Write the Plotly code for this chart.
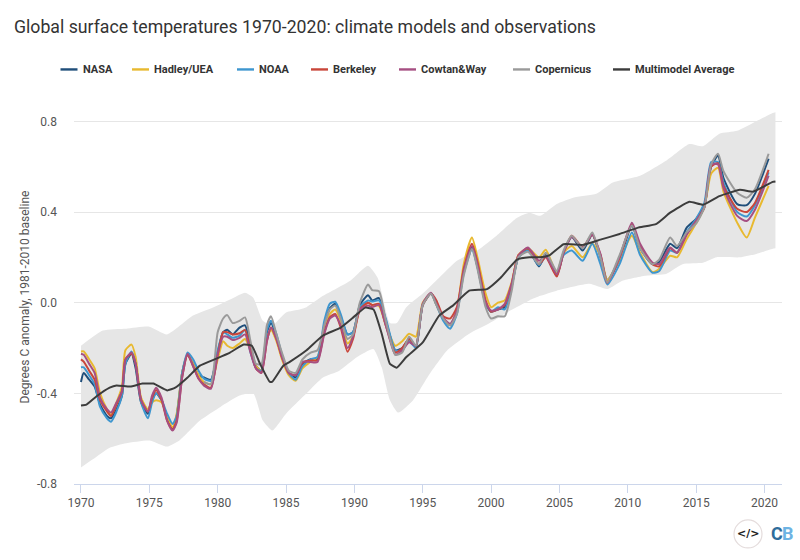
import plotly.graph_objects as go

# model range
upper_years = [1970, 1971.6, 1973.3, 1975, 1976.3, 1978.2, 1979.7, 1981.1, 1982, 1982.6, 1983.3, 1984, 1985, 1986, 1986.5, 1987.7, 1989.7, 1991, 1991.7, 1992.6, 1993.1, 1993.8, 1995, 1996.2, 1997.5, 1999, 2000.4, 2001.9, 2002.8, 2003.6, 2004.8, 2006, 2007.7, 2008.9, 2010.9, 2012.8, 2014.5, 2015.5, 2016.7, 2018, 2019.4, 2020.6, 2020.8]
upper_vals = [-0.19, -0.123, -0.115, -0.106, -0.14, -0.057, -0.02, 0.02, 0.044, 0.022, -0.08, -0.10, -0.043, -0.03, -0.02, 0.03, 0.097, 0.163, 0.11, -0.09, -0.09, -0.02, 0.04, 0.11, 0.185, 0.23, 0.295, 0.375, 0.397, 0.383, 0.435, 0.463, 0.48, 0.53, 0.56, 0.626, 0.70, 0.69, 0.745, 0.758, 0.80, 0.837, 0.84]
lower_years = [1970, 1970.9, 1972.1, 1973.3, 1975, 1976.3, 1977.2, 1978.7, 1980.2, 1981.6, 1982.6, 1983.3, 1984, 1985, 1986.5, 1987.7, 1988.9, 1990.2, 1991.4, 1992, 1992.6, 1993.2, 1994.3, 1995.5, 1996.8, 1998.4, 1999.9, 2001.4, 2002.8, 2003.6, 2004.8, 2007.2, 2008.5, 2009.6, 2011.4, 2012.8, 2014, 2015.5, 2016.5, 2018.2, 2019.4, 2020.6, 2020.8]
lower_vals = [-0.727, -0.69, -0.64, -0.62, -0.608, -0.635, -0.608, -0.52, -0.46, -0.41, -0.40, -0.52, -0.564, -0.49, -0.40, -0.33, -0.30, -0.24, -0.205, -0.285, -0.43, -0.485, -0.43, -0.315, -0.21, -0.137, -0.09, -0.035, 0.01, 0.03, 0.053, 0.083, 0.06, 0.097, 0.12, 0.127, 0.17, 0.176, 0.20, 0.20, 0.215, 0.238, 0.24]

avg_years = [1970, 1970.4, 1971.1, 1972.1, 1972.6, 1973.6, 1974.5, 1975.3, 1976.3, 1976.9, 1977.8, 1978.7, 1979.9, 1980.9, 1981.9, 1982.5, 1983.1, 1983.8, 1984, 1984.8, 1985.3, 1986.5, 1987.7, 1989, 1989.9, 1990.8, 1991.4, 1992, 1992.6, 1993.1, 1993.8, 1995, 1996.2, 1997.2, 1998.4, 1999.7, 2000.7, 2001.9, 2002.8, 2003.6, 2004.3, 2005.3, 2006.7, 2008, 2009.4, 2010.7, 2012.1, 2013.1, 2014.5, 2015.5, 2016.7, 2018.2, 2019.2, 2020.6, 2020.8]
avg_vals = [-0.454, -0.45, -0.415, -0.375, -0.365, -0.37, -0.357, -0.357, -0.387, -0.375, -0.33, -0.278, -0.247, -0.22, -0.185, -0.19, -0.27, -0.348, -0.348, -0.278, -0.26, -0.21, -0.145, -0.11, -0.066, -0.022, -0.03, -0.137, -0.27, -0.287, -0.24, -0.175, -0.057, -0.013, 0.053, 0.06, 0.11, 0.19, 0.20, 0.20, 0.21, 0.258, 0.255, 0.278, 0.303, 0.33, 0.348, 0.397, 0.445, 0.432, 0.47, 0.498, 0.49, 0.533, 0.535]

# observations, all on the same turning points
obs_years = [1970, 1970.2, 1970.6, 1971, 1971.4, 1971.9, 1972.2, 1972.6, 1973, 1973.25, 1973.7, 1974, 1974.4, 1974.9, 1975.2, 1975.5, 1975.9, 1976.3, 1976.7, 1977, 1977.4, 1977.8, 1978.2, 1978.6,
             1979, 1979.5, 1980, 1980.4, 1980.7, 1981.1, 1981.6, 1982, 1982.4, 1982.8, 1983.2, 1983.6, 1983.9, 1984.3, 1984.7, 1985.2, 1985.7, 1986.2, 1986.8, 1987.3, 1987.8, 1988.2, 1988.6, 1989, 1989.5, 1989.9,
             1990.4, 1991, 1991.3, 1991.8, 1992.3, 1993, 1993.5, 1994, 1994.5, 1995, 1995.6, 1996, 1996.5, 1997, 1997.5, 1998, 1998.6, 1999, 1999.6,
             2000, 2000.5, 2001, 2001.5, 2002, 2002.7, 2003.5, 2004, 2004.8, 2005.3, 2005.9, 2006.7, 2007.4, 2008, 2008.5, 2009.4, 2010.3, 2010.9, 2011.8, 2012.3, 2013.1, 2013.6, 2014.3, 2015, 2015.6, 2016.1, 2016.6, 2017, 2018, 2018.7, 2019.3, 2020.3]
nasa = [-0.35, -0.31, -0.34, -0.37, -0.45, -0.50, -0.51, -0.47, -0.41, -0.27, -0.225, -0.29, -0.44, -0.49, -0.43, -0.40, -0.43, -0.51, -0.555, -0.50, -0.31, -0.23, -0.27, -0.32,
        -0.33, -0.34, -0.22, -0.13, -0.12, -0.14, -0.11, -0.10, -0.19, -0.28, -0.30, -0.13, -0.09, -0.15, -0.24, -0.31, -0.33, -0.27, -0.25, -0.25, -0.10, -0.025, -0.005, -0.06, -0.14, -0.13,
        -0.01, 0.033, 0.01, 0.02, -0.08, -0.21, -0.20, -0.16, -0.19, -0.01, 0.04, 0.0, -0.07, -0.10, -0.04, 0.14, 0.245, 0.16, -0.005,
        -0.04, -0.03, -0.02, 0.07, 0.20, 0.235, 0.16, 0.21, 0.12, 0.22, 0.29, 0.23, 0.30, 0.20, 0.10, 0.19, 0.34, 0.24, 0.17, 0.18, 0.26, 0.24, 0.33, 0.37, 0.43, 0.60, 0.648, 0.55, 0.435, 0.43, 0.48, 0.635]
hadley = [-0.215, -0.215, -0.25, -0.29, -0.40, -0.47, -0.495, -0.44, -0.37, -0.21, -0.185, -0.24, -0.42, -0.47, -0.44, -0.43, -0.44, -0.50, -0.55, -0.49, -0.31, -0.23, -0.27, -0.32,
          -0.35, -0.36, -0.25, -0.17, -0.19, -0.20, -0.18, -0.16, -0.21, -0.28, -0.30, -0.16, -0.12, -0.17, -0.25, -0.32, -0.345, -0.29, -0.26, -0.24, -0.13, -0.05, -0.03, -0.08, -0.18, -0.15,
          -0.03, 0.0, -0.01, -0.015, -0.10, -0.19, -0.17, -0.137, -0.15, 0.0, 0.04, -0.01, -0.07, -0.10, -0.03, 0.17, 0.287, 0.20, 0.04,
          -0.02, 0.0, 0.01, 0.09, 0.21, 0.24, 0.20, 0.233, 0.13, 0.22, 0.25, 0.20, 0.26, 0.21, 0.10, 0.19, 0.295, 0.22, 0.135, 0.15, 0.207, 0.20, 0.28, 0.35, 0.42, 0.57, 0.595, 0.49, 0.353, 0.287, 0.375, 0.515]
noaa = [-0.285, -0.285, -0.32, -0.36, -0.46, -0.51, -0.525, -0.48, -0.41, -0.27, -0.215, -0.27, -0.44, -0.51, -0.44, -0.40, -0.43, -0.49, -0.535, -0.50, -0.31, -0.22, -0.25, -0.30,
        -0.335, -0.345, -0.21, -0.13, -0.14, -0.155, -0.145, -0.12, -0.22, -0.29, -0.30, -0.12, -0.08, -0.14, -0.23, -0.31, -0.34, -0.28, -0.25, -0.24, -0.08, -0.005, 0.004, -0.05, -0.14, -0.13,
        -0.02, 0.01, 0.005, 0.01, -0.07, -0.21, -0.21, -0.17, -0.20, -0.01, 0.04, -0.01, -0.08, -0.115, -0.05, 0.13, 0.235, 0.16, 0.0,
        -0.04, -0.02, -0.03, 0.07, 0.20, 0.23, 0.165, 0.205, 0.125, 0.21, 0.23, 0.185, 0.26, 0.17, 0.08, 0.17, 0.31, 0.21, 0.132, 0.14, 0.23, 0.22, 0.31, 0.37, 0.44, 0.62, 0.62, 0.53, 0.40, 0.38, 0.43, 0.575]
berkeley = [-0.25, -0.26, -0.30, -0.34, -0.43, -0.48, -0.50, -0.45, -0.39, -0.25, -0.225, -0.27, -0.43, -0.48, -0.42, -0.385, -0.43, -0.52, -0.56, -0.52, -0.33, -0.23, -0.28, -0.335,
            -0.36, -0.375, -0.23, -0.13, -0.13, -0.14, -0.135, -0.12, -0.21, -0.29, -0.31, -0.17, -0.11, -0.16, -0.24, -0.31, -0.32, -0.265, -0.255, -0.255, -0.13, -0.065, -0.05, -0.11, -0.216, -0.16,
            -0.03, 0.0, -0.01, -0.005, -0.10, -0.22, -0.20, -0.16, -0.19, -0.01, 0.04, 0.01, -0.06, -0.07, -0.02, 0.15, 0.26, 0.18, 0.01,
            -0.04, -0.03, -0.01, 0.08, 0.21, 0.24, 0.17, 0.20, 0.115, 0.22, 0.295, 0.245, 0.30, 0.21, 0.088, 0.20, 0.345, 0.25, 0.17, 0.16, 0.24, 0.22, 0.30, 0.36, 0.42, 0.60, 0.615, 0.515, 0.414, 0.40, 0.44, 0.586]
cowtan = [-0.225, -0.23, -0.27, -0.31, -0.42, -0.47, -0.485, -0.44, -0.39, -0.25, -0.22, -0.27, -0.43, -0.48, -0.41, -0.375, -0.42, -0.52, -0.564, -0.53, -0.33, -0.225, -0.28, -0.335,
          -0.366, -0.38, -0.23, -0.15, -0.15, -0.165, -0.155, -0.14, -0.22, -0.29, -0.31, -0.17, -0.11, -0.16, -0.24, -0.31, -0.32, -0.26, -0.262, -0.262, -0.137, -0.07, -0.057, -0.10, -0.20, -0.15,
          -0.03, -0.013, -0.02, -0.01, -0.10, -0.23, -0.21, -0.175, -0.19, -0.004, 0.044, -0.005, -0.066, -0.093, -0.035, 0.14, 0.25, 0.17, 0.0,
          -0.035, -0.03, -0.005, 0.083, 0.207, 0.243, 0.185, 0.205, 0.125, 0.22, 0.29, 0.243, 0.30, 0.215, 0.09, 0.20, 0.353, 0.26, 0.177, 0.17, 0.243, 0.22, 0.30, 0.36, 0.42, 0.61, 0.61, 0.505, 0.383, 0.36, 0.41, 0.56]
# Copernicus only starts in 1979
copernicus = [None, None, None, None, None, None, None, None, None, None, None, None, None, None, None, None, None, None, None, None, None, None, None, None,
              -0.35, -0.36, -0.13, -0.07, -0.055, -0.09, -0.08, -0.065, -0.17, -0.27, -0.27, -0.10, -0.06, -0.14, -0.22, -0.30, -0.31, -0.25, -0.22, -0.21, -0.10, -0.03, -0.013, -0.07, -0.16, -0.14,
              0.0, 0.08, 0.055, 0.05, -0.08, -0.23, -0.22, -0.15, -0.19, -0.01, 0.04, -0.01, -0.07, -0.10, -0.05, 0.12, 0.237, 0.15, -0.02,
              -0.07, -0.06, -0.06, 0.05, 0.20, 0.225, 0.17, 0.22, 0.14, 0.23, 0.295, 0.24, 0.31, 0.20, 0.09, 0.21, 0.34, 0.24, 0.17, 0.19, 0.287, 0.25, 0.31, 0.35, 0.42, 0.61, 0.657, 0.58, 0.485, 0.463, 0.50, 0.657]

x_ticks = [1970, 1975, 1980, 1985, 1990, 1995, 2000, 2005, 2010, 2015, 2020]
y_ticks = [-0.8, -0.4, 0, 0.4, 0.8]
y_labels = ["-0.8", "-0.4", "0.0", "0.4", "0.8"]

series = [("NASA", nasa, "#1f4e7a"), ("Hadley/UEA", hadley, "#e8b92f"), ("NOAA", noaa, "#3e96cf"),
          ("Berkeley", berkeley, "#c9463a"), ("Cowtan&Way", cowtan, "#a64f82"), ("Copernicus", copernicus, "#9a9a9a")]
AVG_COLOR = "#3c3c3c"

FONT = "Roboto"
fig = go.Figure()

# lower edge first, upper edge fills down to it
fig.add_trace(go.Scatter(x=lower_years, y=lower_vals, mode="lines", showlegend=False, hoverinfo="skip",
                         line=dict(width=0, shape="spline", smoothing=0.5)))
fig.add_trace(go.Scatter(x=upper_years, y=upper_vals, mode="lines", showlegend=False, hoverinfo="skip",
                         fill="tonexty", fillcolor="#e6e6e6", line=dict(width=0, shape="spline", smoothing=0.5)))
for name, vals, col in series:
    fig.add_trace(go.Scatter(x=obs_years, y=vals, name=name, mode="lines", showlegend=False,
                             line=dict(color=col, width=2, shape="spline", smoothing=0.6)))
fig.add_trace(go.Scatter(x=avg_years, y=avg_vals, name="Multimodel Average", mode="lines", showlegend=False,
                         line=dict(color=AVG_COLOR, width=2, shape="spline", smoothing=0.4)))

# pixels -> paper, for the legend and the logo
def px(x):
    return (x - 74) / (782 - 74)
def py(y):
    return (484 - y) / (484 - 109.6)

# legend drawn by hand, plotly's own keys are too long and it wraps
legend_names = [s[0] for s in series] + ["Multimodel Average"]
legend_colors = [s[2] for s in series] + [AVG_COLOR]
legend_starts = [60.5, 132, 237, 311, 399, 513, 613]
for name, col, x0 in zip(legend_names, legend_colors, legend_starts):
    fig.add_shape(type="line", xref="paper", yref="paper", x0=px(x0), x1=px(x0 + 17), y0=py(69), y1=py(69),
                  line=dict(color=col, width=2.4))
    fig.add_annotation(x=px(x0 + 20), y=py(69), xref="paper", yref="paper", text=name, showarrow=False,
                       xanchor="left", yanchor="middle", font=dict(family=FONT, size=11, color="#333333", weight="bold"))

fig.add_shape(type="circle", xref="paper", yref="paper", x0=px(734), x1=px(762), y0=py(548), y1=py(520),
              line=dict(color="#e4dcdc", width=1.2), fillcolor="white")
fig.add_annotation(x=px(748), y=py(534), xref="paper", yref="paper", text="<b>&lt;/&gt;</b>", showarrow=False,
                   xanchor="center", yanchor="middle", font=dict(family="DejaVu Sans", size=11, color="#222222"))
fig.add_annotation(x=px(776.5), y=py(534), xref="paper", yref="paper", text="<b>C</b>", showarrow=False,
                   xanchor="center", yanchor="middle", font=dict(family=FONT, size=18, color="#2f6c9b"))
fig.add_annotation(x=px(787.5), y=py(534), xref="paper", yref="paper", text="<b>B</b>", showarrow=False,
                   xanchor="center", yanchor="middle", font=dict(family=FONT, size=18, color="#6db3e3"))

fig.update_layout(
    width=800, height=560,
    margin=dict(l=74, r=18, t=109.6, b=76),
    paper_bgcolor="white", plot_bgcolor="white",
    font=dict(family=FONT, color="#555555"),
    title=dict(text="Global surface temperatures 1970-2020: climate models and observations",
               x=14 / 800, xanchor="left", y=1 - 27 / 560, yanchor="middle",
               font=dict(family=FONT, size=17.7, color="#333333")),
    showlegend=False,
)
fig.update_xaxes(range=[1969.49, 2021.28], tickvals=x_ticks, showgrid=False, zeroline=False,
                 showline=True, linecolor="#ccd6eb", ticks="outside", ticklen=8, tickcolor="#ccd6eb",
                 tickfont=dict(size=12, color="#555555"))
fig.update_yaxes(range=[-0.8, 0.85], tickvals=y_ticks, ticktext=y_labels, showgrid=True, gridcolor="#e6e6e6",
                 zeroline=False, ticklabelstandoff=16, tickfont=dict(size=12, color="#555555"),
                 title=dict(text="Degrees C anomaly, 1981-2010 baseline", font=dict(size=12, color="#555555"), standoff=4))

# the page has a default 8px body margin
fig.write_html("out.html", config={"displayModeBar": False}, post_script="document.body.style.margin='0';")
